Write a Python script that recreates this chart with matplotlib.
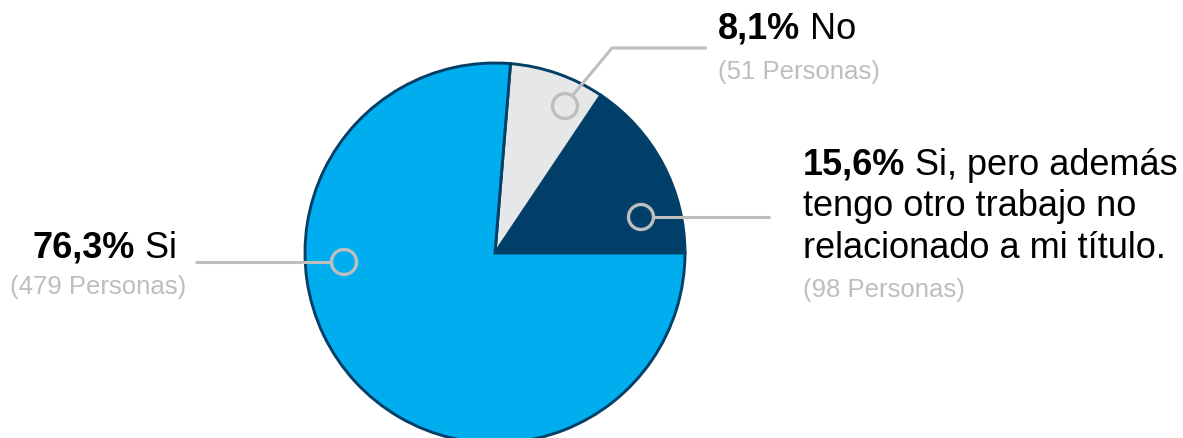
"""Pie chart: share of respondents working in their field (Si / No / Si + otro trabajo)."""
import matplotlib

matplotlib.use("Agg")
import matplotlib.pyplot as plt
from matplotlib.patches import Circle

plt.rcParams["font.family"] = ["Liberation Sans", "DejaVu Sans"]

# --- data -------------------------------------------------------------------
labels = ["Si, pero además\ntengo otro trabajo no\nrelacionado a mi título.", "No", "Si"]
percents = [15.6, 8.1, 76.3]
persons = [98, 51, 479]
pct_text = ["15,6%", "8,1%", "76,3%"]

colors = ["#003F69", "#E6E7E9", "#00AEEF"]
EDGE = "#033F66"
LEADER = "#BEBEBE"
SUB = "#BDBDC2"
BIG, SMALL = 26, 18.5

W, H = 1183, 439
fig = plt.figure(figsize=(W / 100, H / 100), dpi=100)
ax = fig.add_axes([0, 0, 1, 1])

# pie drawn in pixel space (y grows downwards), so clockwise in data = ccw on screen
ax.pie(percents, colors=colors, center=(495, 254), radius=190,
       startangle=0, counterclock=False,
       wedgeprops=dict(edgecolor=EDGE, linewidth=2.1))
ax.set_xlim(0, W)
ax.set_ylim(H, 0)
ax.set_aspect("equal")
ax.axis("off")

# leader anchors: (circle centre, polyline points after the circle)
anchors = [
    ((641, 218), [(654, 218), (770, 218)]),
    ((565, 107), [(573, 96), (612, 49), (707, 49)]),
    ((344, 263), [(331, 263), (195, 263)]),
]
for (cx, cy), pts in anchors:
    xs = [p[0] for p in pts]
    ys = [p[1] for p in pts]
    ax.plot(xs, ys, color=LEADER, lw=2.2, solid_capstyle="butt", zorder=3)
    ax.add_patch(Circle((cx, cy), 12.5, facecolor="none", edgecolor=LEADER,
                        lw=2.4, zorder=4))

fig.canvas.draw()
renderer = fig.canvas.get_renderer()
inv = ax.transData.inverted()


def bold_then_regular(x, y, bold, rest, ha="left", size=BIG):
    """Draw 'bold rest' on one baseline, bold part first."""
    b = ax.text(0, y, bold, fontsize=size, fontweight="bold", va="baseline")
    r = ax.text(0, y, " " + rest, fontsize=size, va="baseline")
    bw = b.get_window_extent(renderer).width
    rw = r.get_window_extent(renderer).width
    x0_disp = ax.transData.transform((x, y))[0]
    if ha == "right":
        x0_disp -= bw + rw
    b.set_x(inv.transform((x0_disp, 0))[0])
    r.set_x(inv.transform((x0_disp + bw, 0))[0])


# right label (15,6%)
lines = labels[0].split("\n")
bold_then_regular(803, 175, pct_text[0], lines[0])
ax.text(803, 216.5, lines[1], fontsize=BIG, va="baseline")
ax.text(803, 258, lines[2], fontsize=BIG, va="baseline")
ax.text(803, 297, f"({persons[0]} Personas)", fontsize=SMALL, color=SUB, va="baseline")

# top label (8,1%)
bold_then_regular(718, 39, pct_text[1], labels[1])
ax.text(718, 79, f"({persons[1]} Personas)", fontsize=SMALL, color=SUB, va="baseline")

# left label (76,3%)
bold_then_regular(177, 258, pct_text[2], labels[2], ha="right")
ax.text(186, 294, f"({persons[2]} Personas)", fontsize=SMALL, color=SUB,
        va="baseline", ha="right")

fig.savefig("out.png", dpi=100)
